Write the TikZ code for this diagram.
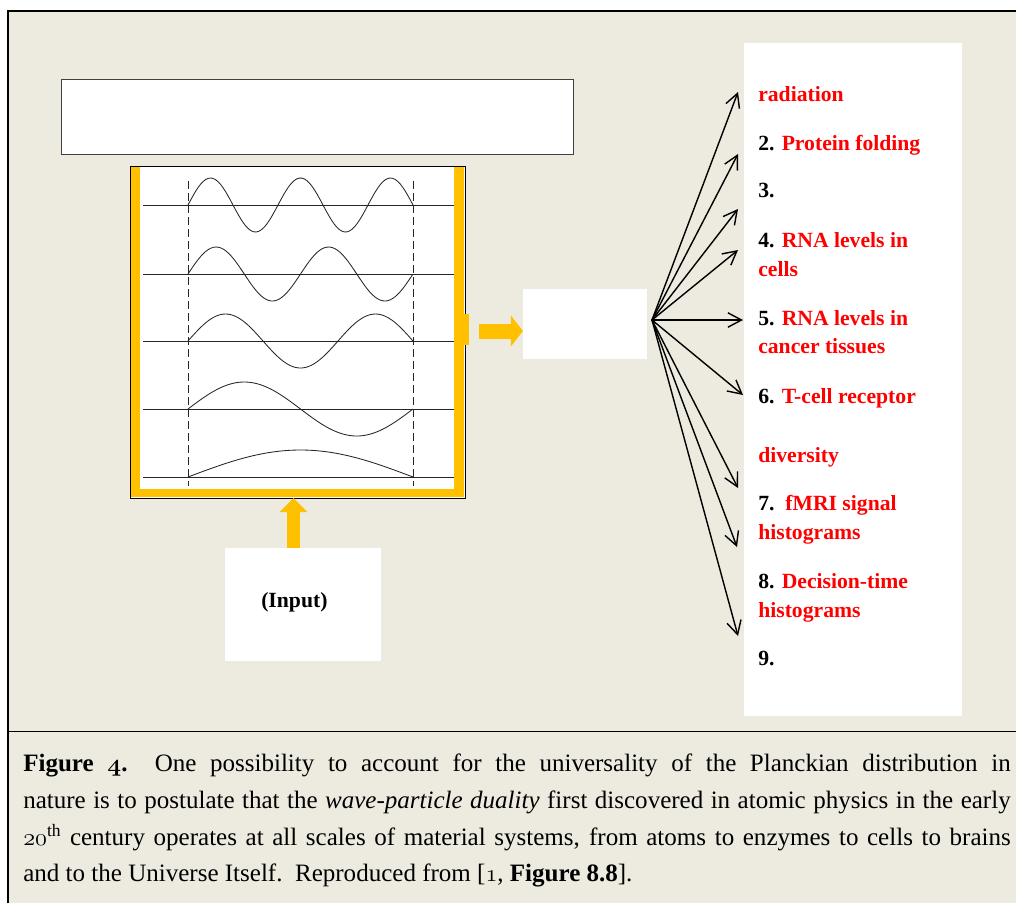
\documentclass[tikz,border=0pt]{standalone}
\usepackage{fontspec}
\setmainfont{Liberation Serif}
\usetikzlibrary{arrows.meta}
\definecolor{paper}{RGB}{237,234,224}
\definecolor{gold}{RGB}{255,192,0}
\newcommand{\osf}[1]{{\usefont{OML}{cmm}{m}{it}#1}}
\newcommand{\osfb}[1]{{\usefont{OML}{cmm}{b}{it}#1}}

\begin{document}
\begin{tikzpicture}
[x=0.025cm, y=-0.025cm, font=\fontsize{15.4}{18}\selectfont\bfseries]
\tikzstyle{box}=[rectangle, fill=white, inner sep=0mm, outer sep=0mm]
\tikzstyle{item}=[anchor=base west, inner sep=0mm]
\tikzstyle{fan}=[line width=1pt, -{Straight Barb[length=0.34cm, width=0.36cm]}]
\tikzstyle{goldarrow}=[gold, line width=0.375cm, -{Triangle[length=0.3cm, width=0.75cm]}]
\tikzstyle{wave}=[line width=0.6pt, black!85]

\useasboundingbox (0,0) rectangle (1016,903);
\fill[white] (0,0) rectangle (1016,903);
\fill[paper] (8,11) rectangle (1016,903);
\draw[line width=2pt] (8,903) -- (8,11) -- (1016,11);
\draw[line width=1.1pt] (8,731.5) -- (1016,731.5);

\node[box, draw=black!75]	(T)	at (317,116.5)	[minimum width=12.8cm, minimum height=1.875cm]	{};
\node[box, draw]	(B)	at (297.5,332)	[minimum width=8.375cm, minimum height=8.3cm]	{};
\node[box]	(M)	at (585,324)	[minimum width=3.1cm, minimum height=1.75cm]	{};
\node[box]	(I)	at (303,604.5)	[minimum width=3.9cm, minimum height=2.825cm]	{};
\node[box]	(P)	at (853,379.5)	[minimum width=5.45cm, minimum height=16.825cm]	{};
\node[item]	(IL)	at (261,607)	{(Input)};

\fill[gold] (131,167) rectangle (140,497);
\fill[gold] (454,167) rectangle (464,497);
\fill[gold] (131,489) rectangle (464,497);
\fill[gold] (463,314) rectangle (469,345);

\foreach \n/\yb in {5/205, 4/274, 3/341, 2/409, 1/477}{
  \draw[wave] (143,\yb) -- (454,\yb);
  \draw[wave, domain=0:225, samples=90, variable=\t] plot ({188+\t},{\yb-27*sin(0.8*\n*\t)});
}
\draw[wave, dash pattern=on 0.2cm off 0.1cm] (188,181) -- (188,486);
\draw[wave, dash pattern=on 0.2cm off 0.1cm] (413,181) -- (413,486);

\coordinate (O) at (479,331);
\coordinate (U) at (293.5,498);
\draw[goldarrow] (O) -- (O -| M.west);
\draw[goldarrow, line width=0.325cm, -{Triangle[length=0.35cm, width=0.675cm]}] (U |- I.north) -- (U);

\coordinate (F) at (652,320);
\coordinate (A1) at (738,92);
\coordinate (A2) at (738,154);
\coordinate (A3) at (738,209);
\coordinate (A4) at (738,250);
\coordinate (A5) at (743,320);
\coordinate (A6) at (743,395);
\coordinate (A7) at (738,488);
\coordinate (A8) at (737,547);
\coordinate (A9) at (738,636);
\foreach \k in {1,...,9}
  \draw[fan] (F) -- (A\k);

\node[item, red]	(L1)	at (758,101)	{radiation};
\node[item]	(L2)	at (758,150)	{2. \textcolor{red}{Protein folding}};
\node[item]	(L3)	at (758,197)	{3.};
\node[item]	(L4)	at (758,247)	{4. \textcolor{red}{RNA levels in}};
\node[item, red]	(L4b)	at (758,276)	{cells};
\node[item]	(L5)	at (758,325)	{5. \textcolor{red}{RNA levels in}};
\node[item, red]	(L5b)	at (758,353)	{cancer tissues};
\node[item]	(L6)	at (758,403)	{6. \textcolor{red}{T-cell receptor}};
\node[item, red]	(L6b)	at (758,462)	{diversity};
\node[item]	(L7)	at (758,510)	{7.\ \ \textcolor{red}{fMRI signal}};
\node[item, red]	(L7b)	at (758,539)	{histograms};
\node[item]	(L8)	at (758,588)	{8. \textcolor{red}{Decision-time}};
\node[item, red]	(L8b)	at (758,617)	{histograms};
\node[item]	(L9)	at (758,665)	{9.};

\node[anchor=north west, inner sep=0mm, text width=24.68cm, align=justify,
  font=\fontsize{17.8}{26}\selectfont\mdseries]	(C)	at (23,754)
{\textbf{Figure \osfb{4}.}\ \ One possibility to account for the universality of the Planckian distribution in\linebreak
nature is to postulate that the \textit{wave-particle duality} first discovered in atomic physics in the early\linebreak
\osf{20}\textsuperscript{th} century operates at all scales of material systems, from atoms to enzymes to cells to brains\linebreak
and to the Universe Itself.\ \ Reproduced from [\osf{1}, \textbf{Figure 8.8}].};
\end{tikzpicture}
\end{document}
